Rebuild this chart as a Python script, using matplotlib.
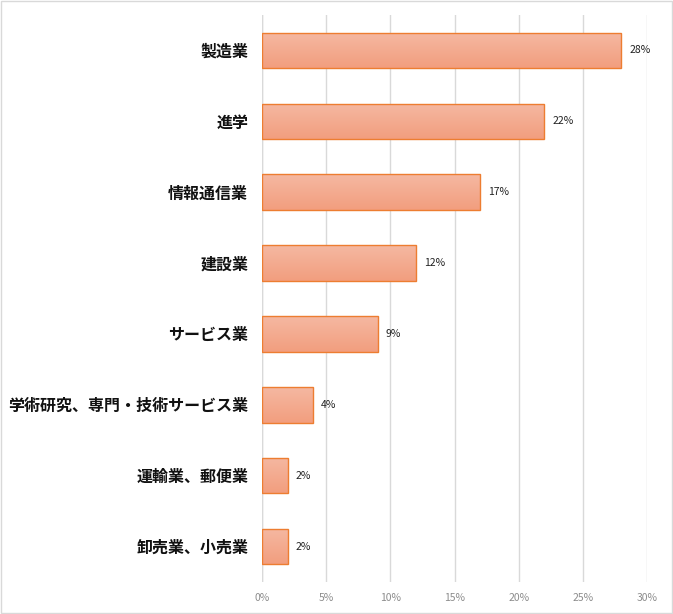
import numpy as np
import matplotlib.pyplot as plt
from matplotlib.colors import LinearSegmentedColormap

plt.rcParams['font.family'] = ['Noto Sans CJK JP', 'DejaVu Sans']

categories = ['製造業', '進学', '情報通信業', '建設業', 'サービス業',
              '学術研究、専門・技術サービス業', '運輸業、郵便業', '卸売業、小売業']
values = [28, 22, 17, 12, 9, 4, 2, 2]
xticks = [0, 5, 10, 15, 20, 25, 30]

fig = plt.figure(figsize=(6.73, 6.14), dpi=100)
fig.patches.append(plt.Rectangle((0.001, 0.001), 0.997, 0.997, transform=fig.transFigure,
                                 fill=False, edgecolor='#d9d9d9', linewidth=1))
ax = fig.add_axes([0.3893, 0.0521, 0.5721, 0.9235])

y = np.arange(len(categories))
bars = ax.barh(y, values, height=0.5, color='none', edgecolor='#ED7D31', linewidth=1, zorder=3)

cmap = LinearSegmentedColormap.from_list('g', ['#F5B8A2', '#F29E7E'])
grad = np.linspace(0, 1, 64).reshape(-1, 1)
for b in bars:
    x0, y0 = b.get_x(), b.get_y()
    w, h = b.get_width(), b.get_height()
    im = ax.imshow(grad, cmap=cmap, aspect='auto', extent=(x0, x0 + w, y0 + h, y0),
                   origin='upper', zorder=2)
    im.set_clip_path(b)

for yi, v in zip(y, values):
    ax.text(v + 0.6, yi, f'{v}%', va='center', ha='left', fontsize=7.5, color='#222222')

ax.set_xlim(0, 30)
ax.set_ylim(len(categories) - 0.5, -0.5)
ax.set_yticks(y)
ax.set_yticklabels(categories, fontsize=11.5, fontweight='bold', color='#111111')
ax.set_xticks(xticks)
ax.set_xticklabels([f'{t}%' for t in xticks], fontsize=7.5, color='#8c8c8c')
ax.tick_params(axis='both', length=0)
ax.tick_params(axis='y', pad=10)
ax.tick_params(axis='x', pad=8)
ax.grid(axis='x', color='#d9d9d9', linewidth=1, zorder=0)
ax.set_axisbelow(True)
for s in ax.spines.values():
    s.set_visible(False)
ax.axvline(0, color='#d9d9d9', linewidth=1, zorder=1)

fig.savefig('out.png', dpi=100)
